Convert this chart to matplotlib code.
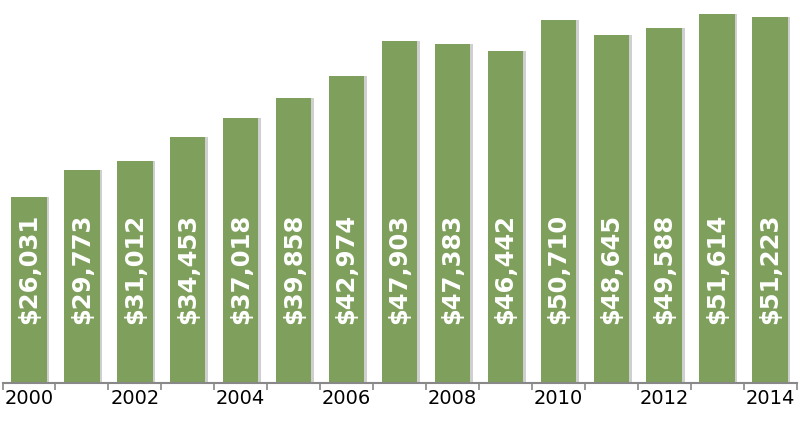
import matplotlib
matplotlib.use("Agg")
import matplotlib.pyplot as plt
import numpy as np

years = list(range(2000, 2015))
values = [26031, 29773, 31012, 34453, 37018, 39858, 42974, 47903, 47383, 46442, 50710, 48645, 49588, 51614, 51223]
tick_labels = [str(y) if (y % 2 == 0) else "" for y in years]

fig = plt.figure(figsize=(8, 4.22), dpi=100)
ax = fig.add_axes([2.5/800, 39/422, 794/800, 383/422])
x = np.arange(len(years))
ax.bar(x + 0.05, values, width=0.67, color="#cfcfcf", zorder=1)
ax.bar(x, values, width=0.67, color="#7fa05c", zorder=2)
for xi, v in zip(x, values):
    ax.text(xi, 8300, f"${v:,}", rotation=90, ha="center", va="bottom",
            color="white", fontsize=17.5, fontweight="bold", family="DejaVu Sans", zorder=3)
ax.set_xlim(-0.5, len(years) - 0.5)
ax.set_ylim(0, 51614 * 383 / 369)
for s in ["top", "right", "left"]:
    ax.spines[s].set_visible(False)
ax.spines["bottom"].set_color("#888888")
ax.spines["bottom"].set_linewidth(1.5)
ax.set_yticks([])
ax.set_xticks(x)
ax.set_xticklabels(tick_labels, fontsize=14, family="DejaVu Sans")
ax.tick_params(axis="x", length=0, pad=4)
ax.set_xticks(np.arange(-0.5, len(years)), minor=True)
ax.tick_params(axis="x", which="minor", length=5, color="#888888", width=1.2)
fig.savefig("out.png", dpi=100)
